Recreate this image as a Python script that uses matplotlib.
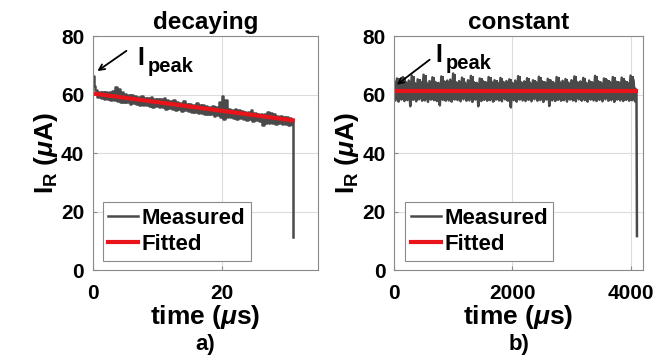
import numpy as np
import matplotlib
matplotlib.use('Agg')
import matplotlib.pyplot as plt

plt.rcParams['font.family'] = 'Liberation Sans'
plt.rcParams['font.weight'] = 'bold'
plt.rcParams['axes.titleweight'] = 'bold'
plt.rcParams['axes.labelweight'] = 'bold'
plt.rcParams['mathtext.fontset'] = 'custom'
plt.rcParams['mathtext.rm'] = 'Liberation Sans:bold'
plt.rcParams['mathtext.it'] = 'Liberation Sans:italic:bold'
plt.rcParams['mathtext.bf'] = 'Liberation Sans:bold'

# ---- panel a) decaying ----
# start of trace (peak) and end (drop)
t_a_start = [0.0, 0.2, 0.35]
i_a_start = [66.5, 63.0, 61.5]
t_a = [0.5, 1, 1.5, 2, 2.5, 3, 3.5, 4, 4.5, 5, 5.5, 6, 6.5, 7, 7.5, 8, 8.5, 9, 9.5, 10,
       10.5, 11, 11.5, 12, 12.5, 13, 13.5, 14, 14.5, 15, 15.5, 16, 16.5, 17, 17.5, 18,
       18.5, 19, 19.5, 20, 20.5, 21, 21.5, 22, 22.5, 23, 23.5, 24, 24.5, 25, 25.5, 26,
       26.5, 27, 27.5, 28, 28.5, 29, 29.5, 30, 30.5]
hi_a = [61.5, 61.0, 60.8, 60.9, 61.0, 61.2, 62.5, 62.0, 61.0, 60.2, 59.8, 60.0, 59.6, 59.2,
        59.4, 59.0, 58.8, 59.3, 58.6, 58.5, 58.4, 58.8, 58.0, 57.9, 58.2, 57.4, 57.2, 57.8,
        56.9, 56.8, 56.6, 57.0, 56.3, 56.6, 56.0, 55.8, 56.2, 55.6, 57.5, 59.5, 58.0, 55.0,
        54.8, 55.2, 54.6, 54.3, 54.2, 54.0, 54.6, 53.6, 53.4, 53.5, 53.2, 54.2, 53.8, 53.5,
        52.8, 52.6, 52.4, 52.2, 52.0]
lo_a = [59.2, 59.0, 58.6, 58.4, 58.3, 58.0, 57.8, 57.6, 57.6, 57.3, 56.8, 57.1, 56.8, 56.4,
        56.6, 56.3, 56.2, 55.8, 56.0, 55.6, 55.6, 55.2, 55.4, 55.1, 54.8, 54.9, 54.4, 54.6,
        54.3, 54.0, 54.1, 53.6, 53.8, 53.4, 53.2, 53.3, 52.8, 53.0, 52.2, 51.8, 52.3, 52.4,
        52.1, 51.8, 52.0, 51.6, 51.4, 51.6, 50.8, 51.2, 50.8, 49.6, 50.4, 50.3, 50.4, 50.0,
        50.2, 49.8, 50.0, 49.7, 49.8]
t_a_end = [30.8, 30.95, 31.0]
i_a_end = [51.0, 46.0, 11.3]
fit_t_a = [0, 31.0]
fit_i_a = [60.4, 51.2]

# ---- panel b) constant ----
t_b = [0, 50, 100, 150, 200, 250, 300, 350, 400, 450, 500, 550, 600, 650, 700, 750, 800,
       850, 900, 950, 1000, 1050, 1100, 1150, 1200, 1250, 1300, 1350, 1400, 1450, 1500,
       1550, 1600, 1650, 1700, 1750, 1800, 1850, 1900, 1950, 2000, 2050, 2100, 2150, 2200,
       2250, 2300, 2350, 2400, 2450, 2500, 2550, 2600, 2650, 2700, 2750, 2800, 2850, 2900,
       2950, 3000, 3050, 3100, 3150, 3200, 3250, 3300, 3350, 3400, 3450, 3500, 3550, 3600,
       3650, 3700, 3750, 3800, 3850, 3900, 3950, 4000, 4050]
hi_b = [64.5, 65.5, 64.2, 66.0, 64.3, 64.8, 66.5, 64.0, 65.2, 64.4, 66.8, 64.1, 64.6, 65.9,
        64.3, 64.0, 66.2, 64.5, 64.8, 65.1, 67.2, 64.2, 64.6, 65.8, 64.1, 64.9, 66.4, 64.3,
        64.0, 65.5, 64.7, 64.2, 66.0, 64.4, 64.9, 64.1, 65.7, 64.3, 64.6, 65.2, 64.0, 64.8,
        66.3, 64.2, 64.5, 65.6, 64.1, 64.9, 64.3, 66.1, 64.6, 64.2, 65.4, 64.8, 64.0, 66.0,
        64.4, 64.7, 65.3, 64.1, 64.9, 66.2, 64.3, 64.5, 65.7, 64.0, 64.8, 64.2, 66.4, 64.6,
        64.1, 65.5, 64.9, 64.3, 66.0, 64.5, 64.2, 65.8, 64.7, 64.0, 66.5, 65.0]
lo_b = [58.0, 57.6, 58.3, 57.8, 58.1, 56.0, 58.2, 57.7, 58.4, 57.9, 58.0, 57.5, 58.3, 58.1,
        57.8, 56.3, 58.2, 57.9, 58.0, 57.6, 58.3, 58.1, 57.7, 58.4, 57.9, 58.0, 57.5, 58.3,
        56.0, 57.8, 58.2, 57.9, 58.1, 57.6, 58.3, 58.0, 57.7, 58.4, 57.9, 55.6, 58.1, 57.6,
        58.3, 58.0, 57.8, 58.2, 57.7, 58.4, 57.9, 58.1, 57.5, 58.3, 56.1, 58.0, 57.8, 58.2,
        57.9, 58.1, 57.6, 58.3, 58.0, 57.7, 58.4, 57.9, 58.1, 57.6, 58.3, 58.0, 57.8, 58.2,
        57.7, 58.4, 57.9, 58.1, 57.5, 58.3, 58.0, 57.8, 58.2, 57.9, 58.1, 57.7]
t_b_end = [4080, 4100, 4108]
i_b_end = [62.0, 61.0, 11.6]
fit_t_b = [0, 4100]
fit_i_b = [61.2, 61.2]

meas_col = '#4a4a4a'
fit_col = '#e8141a'


def zigzag(t, hi, lo, dt):
    t = np.asarray(t, float)
    tt = np.column_stack([t, t + dt]).ravel()
    yy = np.column_stack([hi, lo]).ravel()
    return tt, yy


def style(ax, xlim, xticks):
    ax.set_xlim(*xlim)
    ax.set_ylim(0, 80)
    ax.set_xticks(xticks)
    ax.set_yticks([0, 20, 40, 60, 80])
    ax.grid(True, color='#dcdcdc', lw=0.8)
    ax.set_axisbelow(True)
    for s in ax.spines.values():
        s.set_color('#8a8a8a')
        s.set_linewidth(0.8)
    ax.tick_params(axis='both', direction='in', length=3, color='#8a8a8a', labelsize=15)
    ax.tick_params(axis='x', pad=10)
    ax.tick_params(axis='y', pad=6)
    ax.set_ylabel(r'I$_\mathregular{R}$ ($\mu$A)', fontsize=19, labelpad=1)
    ax.set_xlabel(r'time ($\mu$s)', fontsize=19, labelpad=0)
    leg = ax.legend(loc='lower left', bbox_to_anchor=(0.045, 0.04), borderaxespad=0,
                    fontsize=16, handlelength=1.35, handletextpad=0.15, labelspacing=0.25,
                    borderpad=0.25, fancybox=False, framealpha=1)
    leg.get_frame().set_edgecolor('#8a8a8a')
    leg.get_frame().set_linewidth(0.8)


fig = plt.figure(figsize=(6.59, 3.61), dpi=100)
ax1 = fig.add_axes([0.1404, 0.252, 0.3422, 0.648])
ax2 = fig.add_axes([0.5979, 0.252, 0.3778, 0.648])

# a) decaying
tz, yz = zigzag(t_a, hi_a, lo_a, 0.25)
ta = np.concatenate([t_a_start, tz, t_a_end])
ya = np.concatenate([i_a_start, yz, i_a_end])
ax1.plot(ta, ya, color=meas_col, lw=1.8, drawstyle='steps-post', label='Measured')
ax1.plot(fit_t_a, fit_i_a, color=fit_col, lw=3, label='Fitted')
style(ax1, (0, 34.9), [0, 20])
ax1.set_title('decaying', fontsize=17.5, pad=5)
ax1.annotate('', xy=(0.4, 67.5), xytext=(5.6, 75.5),
             arrowprops=dict(arrowstyle='->', color='black', lw=1.3))
ax1.text(6.9, 72.5, 'I', fontsize=18, va='center', ha='left')
ax1.text(8.6, 69.5, 'peak', fontsize=14.5, va='center', ha='left')

# b) constant
tz, yz = zigzag(t_b, hi_b, lo_b, 25)
tb = np.concatenate([tz, t_b_end])
yb = np.concatenate([yz, i_b_end])
ax2.fill_between(t_b, lo_b, hi_b, color=meas_col, lw=0, step='post')
ax2.plot(tb, yb, color=meas_col, lw=1.8, label='Measured')
ax2.plot(fit_t_b, fit_i_b, color=fit_col, lw=3, label='Fitted')
style(ax2, (0, 4210), [0, 2000, 4000])
ax2.set_title('constant', fontsize=17.5, pad=5)
ax2.annotate('', xy=(10, 62.8), xytext=(640, 72.5),
             arrowprops=dict(arrowstyle='->', color='black', lw=1.3))
ax2.text(700, 73.5, 'I', fontsize=18, va='center', ha='left')
ax2.text(880, 70.5, 'peak', fontsize=14.5, va='center', ha='left')

fig.text(0.3115, 0.045, 'a)', fontsize=16, ha='center', va='center')
fig.text(0.787, 0.045, 'b)', fontsize=16, ha='center', va='center')

fig.savefig('out.png', dpi=100)
